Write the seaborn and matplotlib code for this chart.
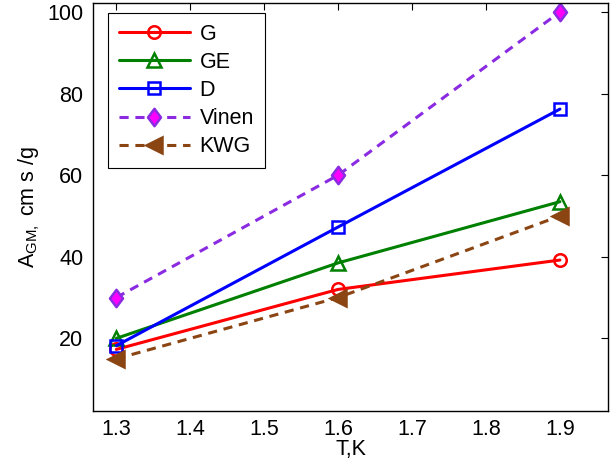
import matplotlib
matplotlib.use("Agg")
import matplotlib.pyplot as plt
from matplotlib.path import Path
import seaborn as sns
import pandas as pd

# Temperatures (K) and coefficient values per model
T = [1.3, 1.6, 1.9]
G = [17.3, 32.0, 39.2]
GE = [20.0, 38.5, 53.5]
D = [18.2, 47.3, 76.2]
VINEN = [30.0, 60.0, 100.0]
KWG = [15.0, 30.0, 50.0]

x_ticks = [1.3, 1.4, 1.5, 1.6, 1.7, 1.8, 1.9]
y_ticks = [20, 40, 60, 80, 100]

sns.set_theme(style="white")
plt.rcParams["font.family"] = ["Liberation Sans", "DejaVu Sans"]
plt.rcParams["mathtext.fontset"] = "custom"
plt.rcParams["mathtext.rm"] = "Liberation Sans"
plt.rcParams["mathtext.it"] = "Liberation Sans"
plt.rcParams["text.color"] = "black"
plt.rcParams["axes.labelcolor"] = "black"
plt.rcParams["xtick.color"] = "black"
plt.rcParams["ytick.color"] = "black"

FS = 15.5

fig = plt.figure(figsize=(6.1, 4.72), dpi=100)
ax = fig.add_axes([93 / 610, (472 - 411) / 472, (608 - 93) / 610, (411 - 3) / 472])

# slightly tall diamond marker
tall_diamond = Path([(0, 1), (0.75, 0), (0, -1), (-0.75, 0), (0, 1)],
                    [Path.MOVETO, Path.LINETO, Path.LINETO, Path.LINETO, Path.CLOSEPOLY])

series = [
    ("G", G, dict(color="#ff0000", marker="o", linestyle="-", markerfacecolor="none",
                  markeredgecolor="#ff0000", markersize=9)),
    ("GE", GE, dict(color="#008000", marker="^", linestyle="-", markerfacecolor="none",
                    markeredgecolor="#008000", markersize=10)),
    ("D", D, dict(color="#0000ff", marker="s", linestyle="-", markerfacecolor="none",
                  markeredgecolor="#0000ff", markersize=8)),
    ("Vinen", VINEN, dict(color="#8a2be2", marker=tall_diamond, linestyle=(0, (3, 2.2)),
                          markerfacecolor="#ff00ff", markeredgecolor="#8a2be2", markersize=12.5)),
    ("KWG", KWG, dict(color="#8b4513", marker="<", linestyle=(0, (3, 2.2)),
                      markerfacecolor="#8b4513", markeredgecolor="#8b4513", markersize=11)),
]

for name, vals, style in series:
    df = pd.DataFrame({"T": T, "A": vals})
    sns.lineplot(data=df, x="T", y="A", ax=ax, label=name, linewidth=2.2,
                 markeredgewidth=1.8, **style)

ax.set_xlim(1.2685, 1.965)
ax.set_ylim(2.2, 102.2)
ax.set_xticks(x_ticks)
ax.set_xticklabels([f"{v:.1f}" for v in x_ticks])
ax.set_yticks(y_ticks)
ax.set_yticklabels([str(v) for v in y_ticks])
ax.tick_params(direction="in", length=5, width=0.8, top=True, right=True,
               labelsize=FS, colors="black", labelcolor="black")
ax.tick_params(axis="x", pad=6)
ax.tick_params(axis="y", pad=7)
for sp in ax.spines.values():
    sp.set_color("black")
    sp.set_linewidth(1.0)

ax.set_xlabel("T,K", fontsize=FS, labelpad=-1, color="black")
ax.set_ylabel(r"A$_{\mathrm{GM},}$ cm s /g", fontsize=FS, labelpad=4, color="black")

leg = ax.legend(loc="upper left", bbox_to_anchor=(0.029, 0.9755), fontsize=FS,
                frameon=True, fancybox=False, edgecolor="black", framealpha=1,
                handlelength=3.3, labelspacing=0.33, borderpad=0.5,
                handletextpad=0.45, borderaxespad=0)
leg.get_frame().set_linewidth(0.8)
for txt in leg.get_texts():
    txt.set_color("black")

fig.savefig("out.png", dpi=100)
